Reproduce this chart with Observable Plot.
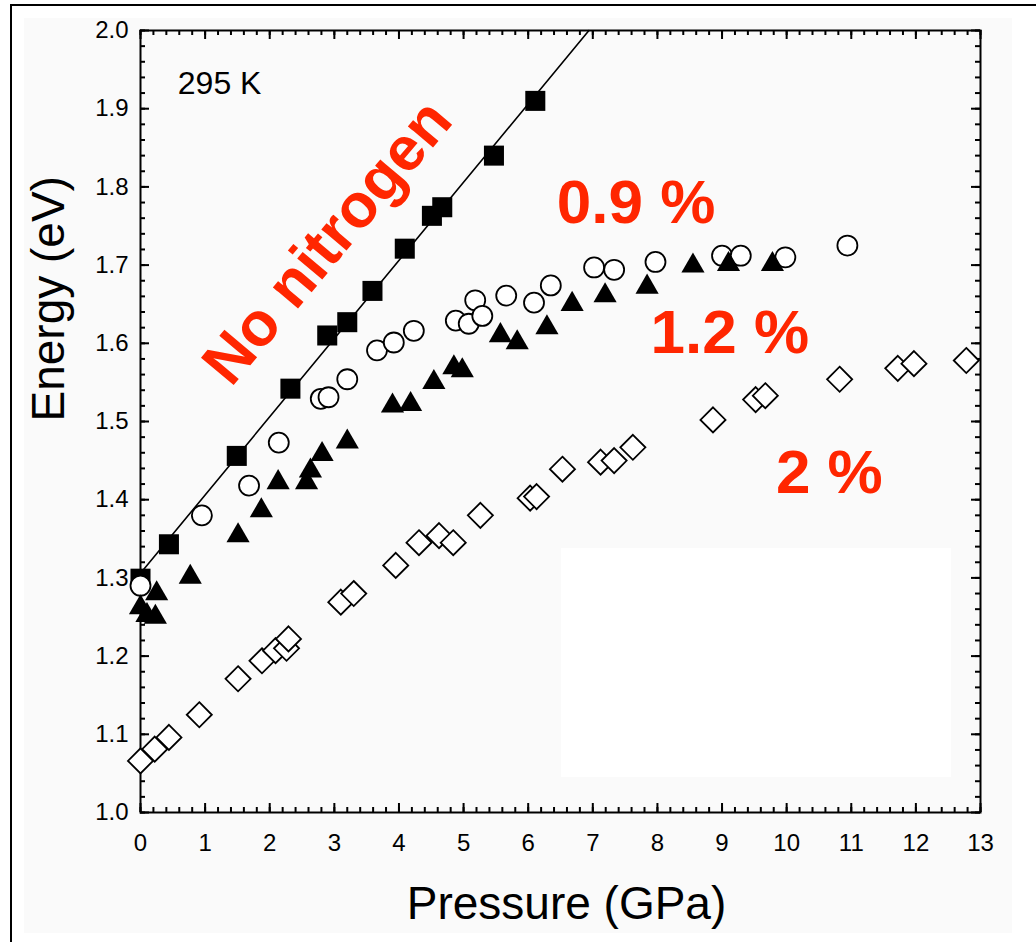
<!DOCTYPE html>
<html>
<head>
<meta charset="utf-8">
<script src="https://cdn.jsdelivr.net/npm/d3@7"></script>
<script src="https://cdn.jsdelivr.net/npm/@observablehq/plot@0.6"></script>
<style>
  html, body { margin: 0; padding: 0; background: #fff; overflow: hidden; }
  #page { position: relative; width: 1036px; height: 942px; overflow: hidden; }
  #border { position: absolute; left: 10px; top: 4px; width: 1200px; height: 1200px;
            border-left: 2px solid #000; border-top: 2px solid #000; }
  #panel { position: absolute; left: 24px; top: 18px; width: 988px; height: 915px; background: #fafafa; }
  #blank { position: absolute; left: 561px; top: 548px; width: 390px; height: 229px; background: #fff; }
  #chart { position: absolute; left: 0; top: 0; }
</style>
</head>
<body>
<div id="page">
  <div id="border"></div>
  <div id="panel"></div>
  <div id="blank"></div>
  <div id="chart"></div>
</div>
<script>
// Band-gap energy vs. pressure at 295 K for GaAs(N) samples

// No nitrogen (filled squares)
const noNitrogenP = [0, 0.44, 1.49, 2.32, 2.89, 3.20, 3.59, 4.09, 4.51, 4.67, 5.47, 6.11];
const noNitrogenE = [1.299, 1.343, 1.456, 1.542, 1.610, 1.627, 1.667, 1.721, 1.763, 1.774, 1.840, 1.910];

// 0.9 % nitrogen (open circles)
const n09P = [0, 0.95, 1.68, 2.14, 2.79, 2.91, 3.20, 3.66, 3.92, 4.23, 4.88, 5.08, 5.18, 5.29, 5.66, 6.09, 6.35, 7.02, 7.33, 7.97, 9.00, 9.29, 9.98, 10.94];
const n09E = [1.290, 1.380, 1.418, 1.473, 1.529, 1.531, 1.554, 1.591, 1.601, 1.616, 1.629, 1.625, 1.655, 1.635, 1.661, 1.652, 1.674, 1.697, 1.694, 1.704, 1.712, 1.712, 1.710, 1.725];

// 1.2 % nitrogen (filled triangles)
const n12P = [0, 0.10, 0.23, 0.25, 0.77, 1.51, 1.87, 2.13, 2.57, 2.63, 2.81, 3.20, 3.90, 4.18, 4.54, 4.85, 4.98, 5.57, 5.83, 6.29, 6.68, 7.19, 7.84, 8.55, 9.10, 9.78];
const n12E = [1.262, 1.252, 1.250, 1.280, 1.301, 1.354, 1.386, 1.422, 1.422, 1.437, 1.458, 1.474, 1.520, 1.522, 1.550, 1.569, 1.565, 1.610, 1.601, 1.620, 1.650, 1.661, 1.672, 1.699, 1.701, 1.701];

// 2 % nitrogen (open diamonds)
const n20P = [0, 0.22, 0.44, 0.91, 1.51, 1.88, 2.09, 2.26, 2.29, 3.10, 3.30, 3.95, 4.31, 4.62, 4.84, 5.26, 6.03, 6.13, 6.53, 7.12, 7.33, 7.62, 8.86, 9.52, 9.67, 10.82, 11.72, 11.97, 12.78];
const n20E = [1.066, 1.081, 1.096, 1.125, 1.171, 1.194, 1.207, 1.210, 1.222, 1.269, 1.280, 1.316, 1.345, 1.354, 1.345, 1.380, 1.402, 1.404, 1.439, 1.448, 1.450, 1.467, 1.502, 1.528, 1.533, 1.554, 1.568, 1.574, 1.578];

// Linear fit through the nitrogen-free points
const fitIntercept = 1.306;
const fitSlope = 0.100;

// Axis ticks
const xTicks = [0, 1, 2, 3, 4, 5, 6, 7, 8, 9, 10, 11, 12, 13];
const yTicks = [1.0, 1.1, 1.2, 1.3, 1.4, 1.5, 1.6, 1.7, 1.8, 1.9, 2.0];
const xMinorStep = 0.2;
const yMinorStep = 0.02;

// Text labels
const tempLabel = "295 K";
const annoText = ["No nitrogen", "0.9 %", "1.2 %", "2 %"];
const annoP = [3.13, 7.67, 9.12, 10.66];
const annoE = [1.713, 1.754, 1.587, 1.409];
const annoAngle = [-50, 0, 0, 0];
const xLabel = "Pressure (GPa)";
const yLabel = "Energy (eV)";

const zip = (xs, ys) => xs.map((x, i) => ({x, y: ys[i]}));
const squares = zip(noNitrogenP, noNitrogenE);
const circles = zip(n09P, n09E);
const triangles = zip(n12P, n12E);
const diamonds = zip(n20P, n20E);
const fitEnd = (yTicks[yTicks.length - 1] - fitIntercept) / fitSlope;
const fitLine = [{x: 0, y: fitIntercept}, {x: fitEnd, y: fitIntercept + fitSlope * fitEnd}];
const annotations = annoText.map((t, i) => ({t, x: annoP[i], y: annoE[i], a: annoAngle[i]}));

const xMinor = d3.range(0, xTicks[xTicks.length - 1] + 1e-9, xMinorStep);
const yMinor = d3.range(yTicks[0], yTicks[yTicks.length - 1] + 1e-9, yMinorStep);

const W = 1036, H = 942;
const mL = 140, mR = 56, mT = 30, mB = 130;
const plotW = W - mL - mR, plotH = H - mT - mB;
const major = 9, minor = 5;
const font = "'Liberation Sans', Arial, Helvetica, sans-serif";
const red = "#ff2600";

const tickStyle = {stroke: "#000", strokeWidth: 2};

const chart = Plot.plot({
  width: W,
  height: H,
  marginLeft: mL,
  marginRight: mR,
  marginTop: mT,
  marginBottom: mB,
  style: {background: "transparent", overflow: "visible", fontFamily: font, color: "#000"},
  x: {domain: [0, 13]},
  y: {domain: [1, 2]},
  marks: [
    // inward ticks on all four sides
    Plot.tickX(xMinor, {x: d => d, insetTop: plotH - minor, ...tickStyle}),
    Plot.tickX(xTicks, {x: d => d, insetTop: plotH - major, ...tickStyle}),
    Plot.tickX(xMinor, {x: d => d, insetBottom: plotH - minor, ...tickStyle}),
    Plot.tickX(xTicks, {x: d => d, insetBottom: plotH - major, ...tickStyle}),
    Plot.tickY(yMinor, {y: d => d, insetRight: plotW - minor, ...tickStyle}),
    Plot.tickY(yTicks, {y: d => d, insetRight: plotW - major, ...tickStyle}),
    Plot.tickY(yMinor, {y: d => d, insetLeft: plotW - minor, ...tickStyle}),
    Plot.tickY(yTicks, {y: d => d, insetLeft: plotW - major, ...tickStyle}),
    Plot.frame({stroke: "#000", strokeWidth: 2}),
    Plot.axisX({ticks: xTicks, tickSize: 0, tickPadding: 21, fontSize: 24, label: null, tickFormat: d3.format("d")}),
    Plot.axisY({ticks: yTicks, tickSize: 0, tickPadding: 12, fontSize: 24, label: null, tickFormat: d3.format(".1f")}),

    // fit line and data points
    Plot.line(fitLine, {x: "x", y: "y", stroke: "#000", strokeWidth: 1.6}),
    Plot.dot(squares, {x: "x", y: "y", symbol: "square", r: 11.3, fill: "#000", stroke: "none"}),
    Plot.dot(circles, {x: "x", y: "y", symbol: "circle", r: 10, fill: "#fff", stroke: "#000", strokeWidth: 1.8}),
    Plot.dot(triangles, {x: "x", y: "y", symbol: "triangle", r: 8.6, fill: "#000", stroke: "none"}),
    Plot.dot(diamonds, {x: "x", y: "y", symbol: "diamond2", r: 11.3, fill: "#fff", stroke: "#000", strokeWidth: 1.8}),

    // labels
    Plot.text([tempLabel], {x: 0.577, y: 1.919, text: d => d, textAnchor: "start", lineAnchor: "bottom", fontSize: 32, fill: "#000"}),
    Plot.text(annotations, {x: "x", y: "y", text: "t", rotate: "a", textAnchor: "middle", lineAnchor: "bottom",
      fontSize: 62, fontWeight: "bold", fill: red}),
    Plot.text([xLabel], {frameAnchor: "bottom", text: d => d, dx: 6, dy: 106, lineAnchor: "bottom", fontSize: 46, fill: "#000"}),
    Plot.text([yLabel], {frameAnchor: "left", text: d => d, rotate: -90, dx: -77, lineAnchor: "bottom", fontSize: 46, fill: "#000"})
  ]
});

document.getElementById("chart").appendChild(chart);
</script>
</body>
</html>
